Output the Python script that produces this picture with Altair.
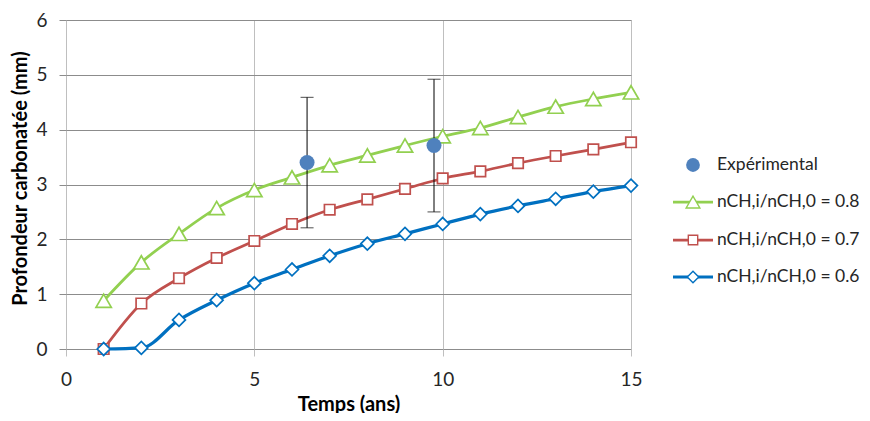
import altair as alt
import pandas as pd

# ---- data ----
t = list(range(1, 16))
s08 = [0.88, 1.58, 2.10, 2.57, 2.90, 3.13, 3.35, 3.53, 3.71, 3.88, 4.03, 4.23, 4.42, 4.56, 4.68]
s07 = [0.00, 0.83, 1.29, 1.66, 1.97, 2.28, 2.54, 2.73, 2.92, 3.11, 3.24, 3.39, 3.52, 3.64, 3.77]
s06 = [0.00, 0.02, 0.53, 0.89, 1.20, 1.45, 1.70, 1.92, 2.10, 2.28, 2.46, 2.61, 2.74, 2.87, 2.98]
exp_t = [6.4, 9.77]
exp_y = [3.40, 3.71]
exp_err = [1.19, 1.21]

labels = ["nCH,i/nCH,0 = 0.8", "nCH,i/nCH,0 = 0.7", "nCH,i/nCH,0 = 0.6"]
exp_label = "Expérimental"
colors = ["#92D050", "#C0504D", "#0070C0"]
shapes = ["triangle-up", "square", "diamond"]
msizes = [235, 110, 165]
lwidths = [2.75, 2.75, 3.2]
exp_color = "#4F81BD"
x_ticks = [0, 5, 10, 15]
y_ticks = [0, 1, 2, 3, 4, 5, 6]

FONT = "Lato"
LEG_FS = 17.5

xenc = alt.X("t:Q", scale=alt.Scale(domain=[0, 15], nice=False),
             axis=alt.Axis(values=x_ticks, format="d", title="Temps (ans)", grid=True,
                           gridColor="#BFBFBF", gridWidth=1, domain=False, labelFlush=False,
                           tickColor="#BFBFBF", tickSize=7, labelPadding=14,
                           labelFont=FONT, labelFontSize=19, labelColor="#262626",
                           titleFont=FONT, titleFontSize=20, titleFontWeight="bold",
                           titleColor="#000000", titleY=61, titleBaseline="alphabetic"))
yenc = alt.Y("y:Q", scale=alt.Scale(domain=[0, 6], nice=False),
             axis=alt.Axis(values=y_ticks, format="d", title="Profondeur carbonatée (mm)", grid=True,
                           gridColor="#8C8C8C", gridWidth=1, domain=False, labelFlush=False,
                           tickColor="#8C8C8C", tickSize=7, labelPadding=12,
                           labelFont=FONT, labelFontSize=19, labelColor="#262626",
                           titleFont=FONT, titleFontSize=20, titleFontWeight="bold",
                           titleColor="#000000", titleX=-46, titleY=158,
                           titleAngle=270, titleBaseline="middle", titleAlign="center"))

layers = []
series_vals = [s08, s07, s06]
for i in range(3):
    d = pd.DataFrame({"t": t, "y": series_vals[i]})
    layers.append(alt.Chart(d).mark_line(color=colors[i], strokeWidth=lwidths[i],
                                         interpolate="monotone").encode(x=xenc, y=yenc))

for i in range(3):
    d = pd.DataFrame({"t": t, "y": series_vals[i]})
    layers.append(alt.Chart(d).mark_point(shape=shapes[i], size=msizes[i], filled=True,
                                          fill="white", stroke=colors[i], strokeWidth=1.7,
                                          opacity=1).encode(x=xenc, y=yenc))

exp_df = pd.DataFrame({"t": exp_t, "y": exp_y, "err": exp_err})
eb = alt.Chart(exp_df).transform_calculate(lo="datum.y - datum.err", hi="datum.y + datum.err")
layers.append(eb.mark_rule(color="black", strokeWidth=1).encode(
    x=xenc, y=alt.Y("lo:Q"), y2="hi:Q"))
layers.append(eb.mark_tick(color="black", orient="horizontal", size=13, thickness=1).encode(
    x=xenc, y=alt.Y("lo:Q")))
layers.append(eb.mark_tick(color="black", orient="horizontal", size=13, thickness=1).encode(
    x=xenc, y=alt.Y("hi:Q")))
layers.append(alt.Chart(exp_df).mark_circle(color=exp_color, size=225, opacity=1).encode(
    x=xenc, y=yenc))

# ---- manual legend (pixel positions relative to plot area) ----
dummy = pd.DataFrame({"k": [0]})
LX_SYM = 627
LX_TXT = 651
leg_rows = [182, 220, 257]
layers.append(alt.Chart(dummy).mark_circle(color=exp_color, size=190, opacity=1).encode(
    x=alt.value(LX_SYM), y=alt.value(145)))
layers.append(alt.Chart(dummy).mark_text(align="left", baseline="middle", font=FONT,
                                         fontSize=LEG_FS, color="#262626").encode(
    x=alt.value(LX_TXT), y=alt.value(145), text=alt.value(exp_label)))
for i in range(3):
    yy = leg_rows[i]
    layers.append(alt.Chart(dummy).mark_rule(color=colors[i], strokeWidth=lwidths[i]).encode(
        x=alt.value(LX_SYM - 20), x2=alt.value(LX_SYM + 20), y=alt.value(yy)))
    layers.append(alt.Chart(dummy).mark_point(shape=shapes[i], size=msizes[i] * 0.8, filled=True,
                                              fill="white", stroke=colors[i], strokeWidth=1.4,
                                              opacity=1).encode(
        x=alt.value(LX_SYM), y=alt.value(yy)))
    layers.append(alt.Chart(dummy).mark_text(align="left", baseline="middle", font=FONT,
                                             fontSize=LEG_FS, color="#262626").encode(
        x=alt.value(LX_TXT), y=alt.value(yy), text=alt.value(labels[i])))

chart = alt.layer(*layers).properties(
    width=565, height=329,
    autosize=alt.AutoSizeParams(type="none"),
    padding={"left": 58, "top": 12, "right": 231, "bottom": 64},
).configure_view(stroke=None).configure(background="white")

chart.save("out.html", embed_options={"renderer": "svg", "actions": False})
